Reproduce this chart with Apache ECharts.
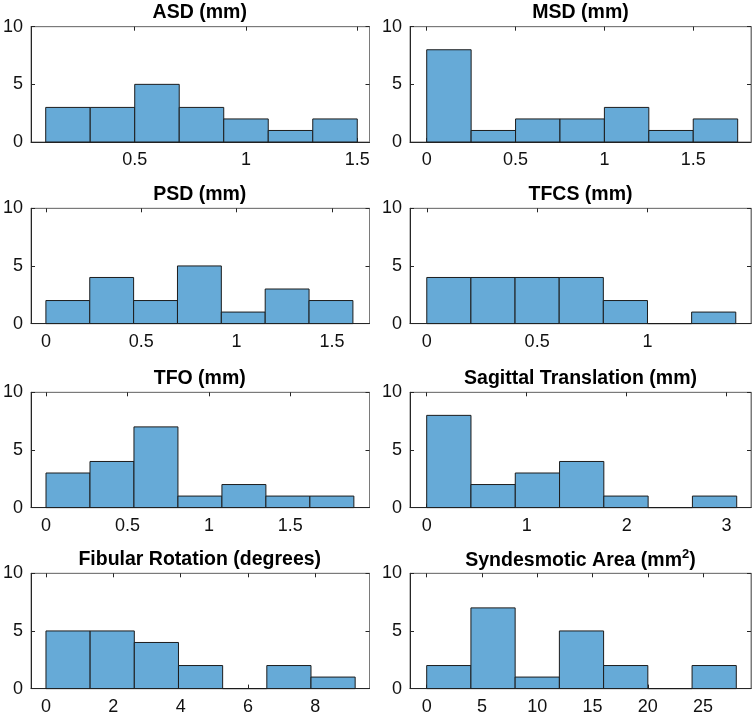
<!DOCTYPE html>
<html>
<head>
<meta charset="utf-8">
<script src="https://cdn.jsdelivr.net/npm/echarts@6/dist/echarts.min.js"></script>
<style>
html,body{margin:0;padding:0;background:#fff;}
#chart{width:756px;height:716px;}
</style>
</head>
<body>
<div id="chart"></div>
<script>
// ---- data ----
const titles = ['ASD (mm)', 'MSD (mm)', 'PSD (mm)', 'TFCS (mm)', 'TFO (mm)', 'Sagittal Translation (mm)', 'Fibular Rotation (degrees)', '{a|Syndesmotic Area (mm}{s|2}{a|)}'];

const asdEdges = [0.1, 0.3, 0.5, 0.7, 0.9, 1.1, 1.3, 1.5];
const asdCounts = [3, 3, 5, 3, 2, 1, 2];
const msdEdges = [0, 0.25, 0.5, 0.75, 1.0, 1.25, 1.5, 1.75];
const msdCounts = [8, 1, 2, 2, 3, 1, 2];
const psdEdges = [0, 0.23, 0.46, 0.69, 0.92, 1.15, 1.38, 1.61];
const psdCounts = [2, 4, 2, 5, 1, 3, 2];
const tfcsEdges = [0, 0.2, 0.4, 0.6, 0.8, 1.0, 1.2, 1.4];
const tfcsCounts = [4, 4, 4, 4, 2, 0, 1];
const tfoEdges = [0, 0.27, 0.54, 0.81, 1.08, 1.35, 1.62, 1.89];
const tfoCounts = [3, 4, 7, 1, 2, 1, 1];
const sagEdges = [0, 0.443, 0.886, 1.329, 1.772, 2.215, 2.658, 3.101];
const sagCounts = [8, 2, 3, 4, 1, 0, 1];
const fibEdges = [0, 1.312, 2.624, 3.936, 5.248, 6.56, 7.872, 9.184];
const fibCounts = [5, 5, 4, 2, 0, 2, 1];
const synEdges = [0, 4, 8, 12, 16, 20, 24, 28];
const synCounts = [2, 7, 1, 5, 2, 0, 2];

const xTicks = [
  [0.5, 1, 1.5],
  [0, 0.5, 1, 1.5],
  [0, 0.5, 1, 1.5],
  [0, 0.5, 1],
  [0, 0.5, 1, 1.5],
  [0, 1, 2, 3],
  [0, 2, 4, 6, 8],
  [0, 5, 10, 15, 20, 25]
];
const xLimits = [
  [0.034, 1.555],
  [-0.094, 1.825],
  [-0.078, 1.697],
  [-0.076, 1.469],
  [-0.092, 1.986],
  [-0.167, 3.244],
  [-0.444, 9.61],
  [-1.51, 29.33]
];
const yTicks = [0, 5, 10];

const edgesList = [asdEdges, msdEdges, psdEdges, tfcsEdges, tfoEdges, sagEdges, fibEdges, synEdges];
const countsList = [asdCounts, msdCounts, psdCounts, tfcsCounts, tfoCounts, sagCounts, fibCounts, synCounts];

// ---- layout ----
const rowTops = [26.7, 208.3, 392.3, 573.3];
const rowH = 115.3;
const colLefts = [30, 410];
const colWs = [339.5, 341];
const FONT = '"Liberation Sans", Arial, Helvetica, sans-serif';
const AXC = '#262626';
const BOXC = '#7a7a7a';
const LABEL_SIZE = 18;
const TITLE_SIZE = 19.5;

const grids = [], xAxes = [], yAxes = [], series = [], graphics = [];

for (let i = 0; i < 8; i++) {
  const r = Math.floor(i / 2), c = i % 2;
  grids.push({left: colLefts[c], top: rowTops[r], width: colWs[c], height: rowH,
    show: true, borderColor: BOXC, borderWidth: 1, backgroundColor: '#fff', containLabel: false});
  const lim = xLimits[i];
  xAxes.push({
    type: 'value', gridIndex: i, position: 'bottom', min: lim[0], max: lim[1],
    axisLine: {show: true, onZero: false, lineStyle: {color: AXC, width: 1}},
    axisTick: {show: true, inside: true, length: 4, customValues: xTicks[i], lineStyle: {color: AXC}},
    axisLabel: {show: true, customValues: xTicks[i], color: '#111', fontFamily: FONT, fontSize: LABEL_SIZE, margin: 9,
      formatter: v => String(+v.toFixed(3))},
    splitLine: {show: false}
  });
  xAxes.push({
    type: 'value', gridIndex: i, position: 'top', min: lim[0], max: lim[1],
    axisLine: {show: true, onZero: false, lineStyle: {color: BOXC, width: 1}},
    axisTick: {show: true, inside: true, length: 4, customValues: xTicks[i], lineStyle: {color: AXC}},
    axisLabel: {show: false},
    splitLine: {show: false}
  });
  yAxes.push({
    type: 'value', gridIndex: i, position: 'left', min: 0, max: 10, interval: 5,
    axisLine: {show: true, onZero: false, lineStyle: {color: AXC, width: 1}},
    axisTick: {show: true, inside: true, length: 4, lineStyle: {color: AXC}},
    axisLabel: {show: true, color: '#111', fontFamily: FONT, fontSize: LABEL_SIZE, margin: 8},
    splitLine: {show: false}
  });
  yAxes.push({
    type: 'value', gridIndex: i, position: 'right', min: 0, max: 10, interval: 5,
    axisLine: {show: true, onZero: false, lineStyle: {color: BOXC, width: 1}},
    axisTick: {show: true, inside: true, length: 4, lineStyle: {color: AXC}},
    axisLabel: {show: false},
    splitLine: {show: false}
  });
  const e = edgesList[i], cnt = countsList[i];
  const data = cnt.map((v, k) => [e[k], e[k + 1], v]);
  series.push({
    type: 'custom', xAxisIndex: 2 * i, yAxisIndex: 2 * i,
    encode: {x: [0, 1], y: 2},
    data: data,
    renderItem: function (params, api) {
      const p0 = api.coord([api.value(0), 0]);
      const p1 = api.coord([api.value(1), api.value(2)]);
      return {
        type: 'rect',
        shape: {x: p0[0], y: p1[1], width: p1[0] - p0[0], height: p0[1] - p1[1]},
        style: {fill: '#66aad7', stroke: '#1c1c1c', lineWidth: 1}
      };
    }
  });
  graphics.push({
    type: 'text',
    x: colLefts[c] + colWs[c] / 2,
    y: rowTops[r] - 14,
    style: {
      text: titles[i], font: 'bold ' + TITLE_SIZE + 'px ' + FONT, fill: '#000',
      textAlign: 'center', textVerticalAlign: 'middle', align: 'center', verticalAlign: 'middle',
      rich: {
        a: {fontFamily: FONT, fontWeight: 'bold', fontSize: TITLE_SIZE, fill: '#000', lineHeight: 22, verticalAlign: 'bottom'},
        s: {fontFamily: FONT, fontWeight: 'bold', fontSize: 13, fill: '#000', lineHeight: 22, verticalAlign: 'top', padding: [0, 0, 0, 0]}
      }
    }
  });
}

const chart = echarts.init(document.getElementById('chart'), null, {renderer: 'canvas'});
chart.setOption({
  animation: false,
  backgroundColor: '#fff',
  grid: grids,
  xAxis: xAxes,
  yAxis: yAxes,
  series: series,
  graphic: graphics
});
</script>
</body>
</html>
